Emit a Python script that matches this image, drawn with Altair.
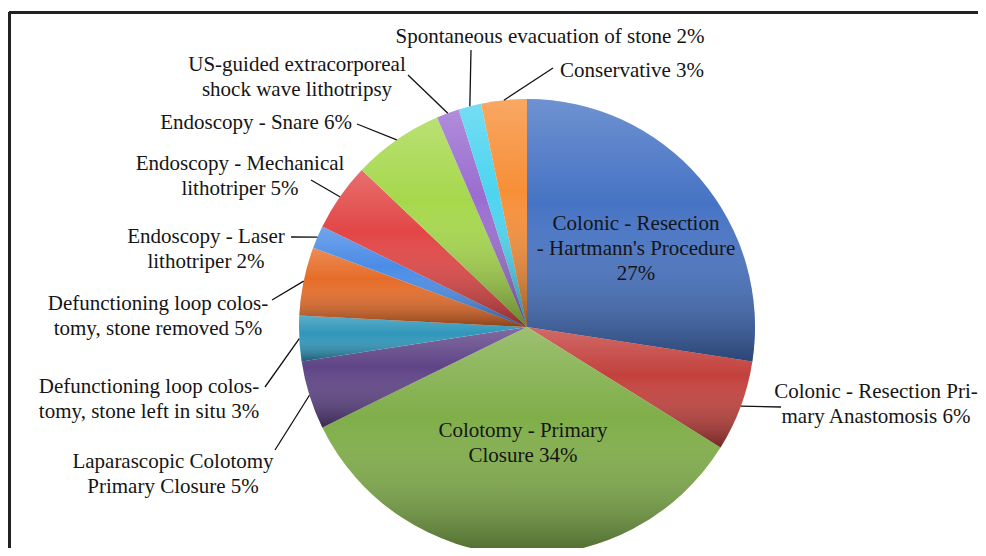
import math
import altair as alt
import pandas as pd

# ---- data ----
categories = [
    "Colonic - Resection - Hartmann's Procedure",
    "Colonic - Resection Primary Anastomosis",
    "Colotomy - Primary Closure",
    "Laparascopic Colotomy Primary Closure",
    "Defunctioning loop colostomy, stone left in situ",
    "Defunctioning loop colostomy, stone removed",
    "Endoscopy - Laser lithotriper",
    "Endoscopy - Mechanical lithotriper",
    "Endoscopy - Snare",
    "US-guided extracorporeal shock wave lithotripsy",
    "Spontaneous evacuation of stone",
    "Conservative",
]
counts = [17, 4, 21, 3, 2, 3, 1, 3, 4, 1, 1, 2]
label_lines = [
    "Colonic - Resection\n-  Hartmann's Procedure\n{p}%",
    "Colonic - Resection Pri-\nmary Anastomosis {p}%",
    "Colotomy - Primary\nClosure {p}%",
    "Laparascopic Colotomy\nPrimary Closure {p}%",
    "Defunctioning loop colos-\ntomy, stone left in situ {p}%",
    "Defunctioning loop colos-\ntomy, stone removed {p}%",
    "Endoscopy - Laser\nlithotriper {p}%",
    "Endoscopy - Mechanical\nlithotriper {p}%",
    "Endoscopy - Snare {p}%",
    "US-guided extracorporeal\nshock wave lithotripsy",
    "Spontaneous evacuation of  stone {p}%",
    "Conservative {p}%",
]

# ---- style / layout ----
colors = ["#4673c4", "#c3413d", "#80ae49", "#5f4486", "#2f96ba", "#e66c28",
          "#4a8ce6", "#e24646", "#a6d84c", "#9a6dd0", "#4dd4f0", "#f78f38"]
FONT = "'Liberation Serif', 'Times New Roman', Times, 'DejaVu Serif', serif"
OFF = 8
W, H = 970, 540
CX, CY, R = 527 - OFF, 327 - OFF, 228
# label anchor (page px): x, first baseline y, align, leader outer end (or None)
layout = [
    (636, 230, "center", None),
    (876, 398, "center", (781, 407)),
    (523, 437, "center", None),
    (173, 468, "center", (275, 450)),
    (149, 393, "center", (265, 387)),
    (158, 310, "center", (272, 300)),
    (206, 243, "center", (291, 237)),
    (240, 170, "center", (311, 180)),
    (352, 129, "right", (357, 124)),
    (297, 71, "center", (408, 75)),
    (550, 43, "center", (471, 50)),
    (560, 77, "left", (553, 68)),
]

total = sum(counts)
rows = []
cum = 0
for i, (c, n, t, lay) in enumerate(zip(categories, counts, label_lines, layout)):
    mid = (cum + n / 2) / total * 2 * math.pi
    cum += n
    pct = round(100 * n / total)
    lx, ly, al, lead = lay
    row = dict(cat=c, count=n, idx=i, label=t.format(p=pct),
               lx=lx - OFF, ly=ly - OFF, align=al)
    if lead is not None:
        row.update(ax=lead[0] - OFF, ay=lead[1] - OFF,
                   bx=CX + R * math.sin(mid), by=CY - R * math.cos(mid), has=1)
    else:
        row.update(ax=None, ay=None, bx=None, by=None, has=0)
    rows.append(row)
df = pd.DataFrame(rows)

xs = alt.Scale(domain=[0, W], range=[0, W])
ys = alt.Scale(domain=[0, H], range=[0, H])

base = alt.Chart(df)

pie = base.mark_arc(outerRadius=R).encode(
    theta=alt.Theta("count:Q", stack=True),
    color=alt.Color("cat:N", scale=alt.Scale(domain=categories, range=colors), legend=None),
    order=alt.Order("idx:Q", sort="ascending"),
    x=alt.value(CX), y=alt.value(CY),
)

shade = base.mark_arc(
    outerRadius=R,
    fill=alt.LinearGradient(
        gradient="linear",
        stops=[alt.GradientStop(color="rgba(255,255,255,0.22)", offset=0),
               alt.GradientStop(color="rgba(255,255,255,0.0)", offset=0.4),
               alt.GradientStop(color="rgba(0,0,0,0.40)", offset=1)],
        x1=0, x2=0, y1=0, y2=1),
).encode(
    theta=alt.Theta("count:Q", stack=True),
    detail="cat:N",
    order=alt.Order("idx:Q", sort="ascending"),
    x=alt.value(CX), y=alt.value(CY),
)

leaders = base.transform_filter("datum.has == 1").mark_rule(
    color="#111111", strokeWidth=1.3
).encode(
    x=alt.X("ax:Q", scale=xs, axis=None),
    y=alt.Y("ay:Q", scale=ys, axis=None),
    x2="bx:Q", y2="by:Q",
)

def text_layer(al):
    return base.transform_filter(f"datum.align == '{al}'").mark_text(
        align=al, baseline="alphabetic", font=FONT, fontSize=21,
        lineBreak="\n", lineHeight=25, color="#151515",
    ).encode(
        x=alt.X("lx:Q", scale=xs, axis=None),
        y=alt.Y("ly:Q", scale=ys, axis=None),
        text="label:N",
    )

frame_top = base.mark_rule(color="#222222", strokeWidth=2).encode(
    x=alt.value(1), x2=alt.value(W), y=alt.value(4.5))
frame_left = base.mark_rule(color="#222222", strokeWidth=2).encode(
    x=alt.value(1.5), y=alt.value(4), y2=alt.value(H))

chart = alt.layer(
    pie, shade, leaders, text_layer("center"), text_layer("left"), text_layer("right"),
    frame_top, frame_left,
).properties(
    width=W, height=H, autosize="none", padding=0
).configure_view(stroke=None)

chart.save("out.html", embed_options={"renderer": "svg", "actions": False})
